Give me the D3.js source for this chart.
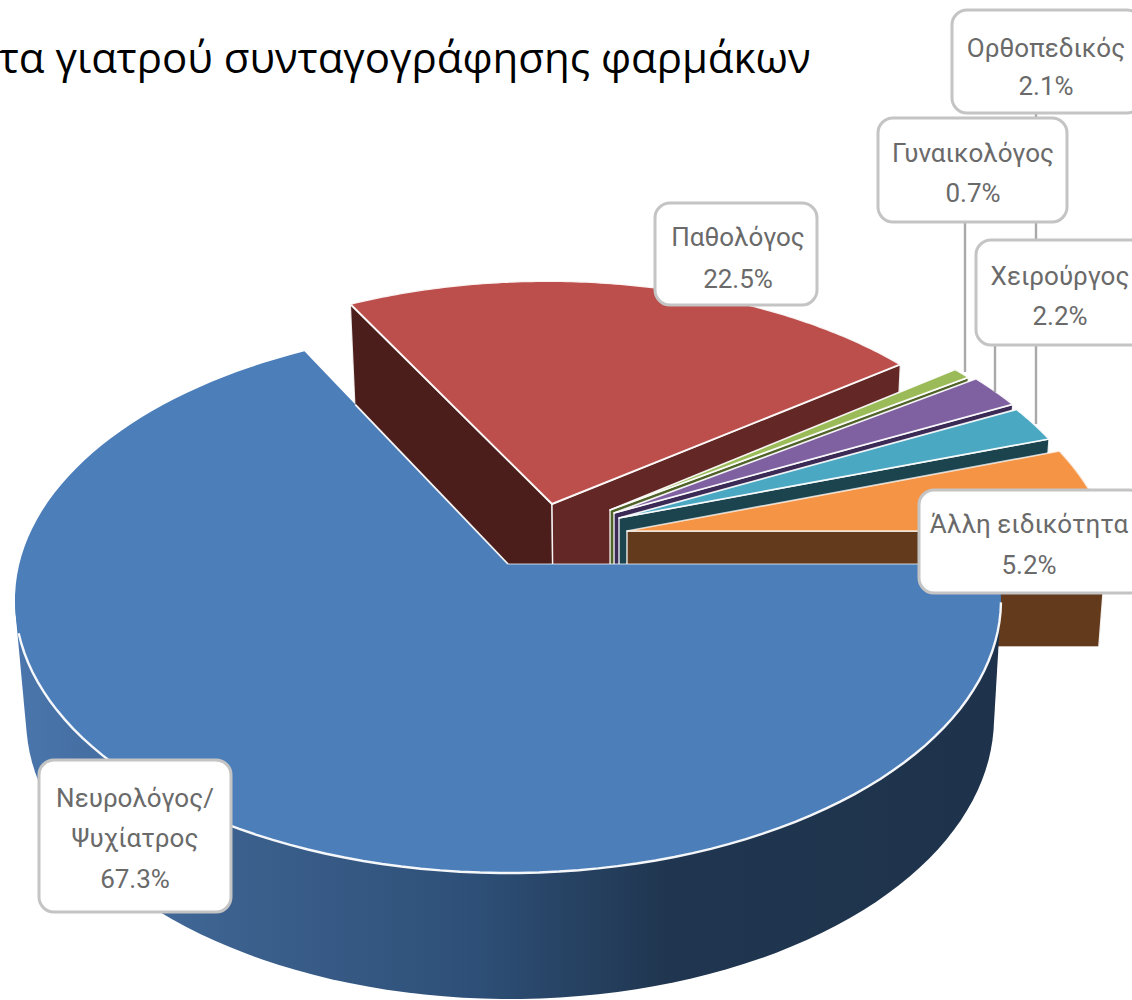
<!DOCTYPE html>
<html lang="el">
<head>
<meta charset="utf-8">
<style>html,body{margin:0;padding:0;background:#fff;overflow:hidden}svg{display:block}</style>
<script src="https://cdn.jsdelivr.net/npm/d3@7/dist/d3.min.js"></script>
</head>
<body>
<script>
// ---- data ----
const categories = ["Νευρολόγος/Ψυχίατρος", "Παθολόγος", "Γυναικολόγος", "Ορθοπεδικός", "Χειρούργος", "Άλλη ειδικότητα"];
const shares = [67.3, 22.5, 0.7, 2.1, 2.2, 5.2];
const labelLines = [["Νευρολόγος/", "Ψυχίατρος"], ["Παθολόγος"], ["Γυναικολόγος"], ["Ορθοπεδικός"], ["Χειρούργος"], ["Άλλη ειδικότητα"]];
const titleText = "τα γιατρού συνταγογράφησης φαρμάκων";

// ---- styles ----
const topColors = ["#4c7eba", "#bc4e4b", "#9bbb59", "#7f60a0", "#4aa8c3", "#f59444"];
const startWallColors = ["#1f344d", "#4b1e1c", "#4f6228", "#3b2a55", "#1b444e", "#633a1b"];
const endWallColors = ["#1f344d", "#632725", "#4f6228", "#3b2a55", "#1b444e", "#633a1b"];
// screen position of each exploded slice's tip, and its radius
const tips = [[508, 564], [552, 504], [610, 510], [614, 513], [619, 518], [627, 531]];
const radii = [1, 0.995, 0.995, 1.005, 1.0, 1.0];
const labelBoxes = [[39, 760, 192, 152], [655, 203, 162, 102], [878, 118, 189, 104], [952, 10, 190, 103], [976, 240, 170, 105], [919, 490, 225, 103]];
const labelCentres = [135, 738, 973, 1046, 1060, 1029];
const labelBaselines = [[807, 847, 888], [246, 288], [162, 202], [57, 95], [285, 325], [533, 574]];
const leaders = [[965, 222, 372], [995, 345, 392], [1036, 113, 424]];

const W = 1132, H = 1000;
const svg = d3.select("body").append("svg").attr("width", W).attr("height", H).attr("viewBox", [0, 0, W, H]);

// Ellipses of the top and bottom rims
const xTop = d3.scaleLinear().domain([-1, 1]).range([15, 1001]);
const yTop = d3.scaleLinear().domain([-1, 1]).range([327, 873]);
const xBot = d3.scaleLinear().domain([-1, 1]).range([26, 994]);
const yBot = d3.scaleLinear().domain([-1, 1]).range([437, 999]);
// perspective: circle centre appears above the ellipse centre
const k = yTop.invert(564);
const q = Math.sqrt(1 - k * k);
const persp = (u, v) => { const d = 1 + k * v; return [u * q / d, (v + k) / d]; };
const unpersp = (X, Y) => { const d = 1 - k * Y; return [X * q / d, (Y - k) / d]; };
const projTop = (p) => { const [X, Y] = persp(p[0], p[1]); return [xTop(X), yTop(Y)]; };
const projBot = (p) => { const [X, Y] = persp(p[0], p[1]); return [xBot(X), yBot(Y)]; };

const pie = d3.pie().sort(null).value(d => d).startAngle(0).endAngle(2 * Math.PI);
const arcs = pie(shares);
const line = d3.line().curve(d3.curveLinear);
const closed = pts => line(pts) + "Z";
const rad = d => d * Math.PI / 180;

const defs = svg.append("defs");
const grad = defs.append("linearGradient").attr("id", "blueWall").attr("gradientUnits", "userSpaceOnUse")
  .attr("x1", 15).attr("x2", 1001).attr("y1", 0).attr("y2", 0);
[[0, "#4a76ad"], [0.22, "#3c618e"], [0.46, "#2e5078"], [0.66, "#203650"], [1, "#1e324b"]]
  .forEach(([o, c]) => grad.append("stop").attr("offset", o).attr("stop-color", c));

const slices = arcs.map((a, i) => {
  const apex = unpersp(xTop.invert(tips[i][0]), yTop.invert(tips[i][1]));
  const pt = t => [apex[0] + radii[i] * Math.cos(t), apex[1] + radii[i] * Math.sin(t)];
  const ts = d3.range(0, 121).map(j => a.startAngle + (a.endAngle - a.startAngle) * j / 120);
  return { i, a, apex, pt, ts };
});

const chart = svg.append("g");
// back to front: red first, then the thin slices, orange, and blue last
[1, 2, 3, 4, 5, 0].forEach(i => {
  const s = slices[i];
  const g = chart.append("g");
  // outer wall
  const wallTs = i === 0 ? s.ts.filter(t => t <= rad(175)) : s.ts;
  const hull = d3.polygonHull(wallTs.flatMap(t => [projTop(s.pt(t)), projBot(s.pt(t))]));
  g.append("path").attr("d", closed(hull))
    .attr("fill", i === 0 ? "url(#blueWall)" : endWallColors[i]);
  // radial walls
  if (i !== 0) {
    const face = (t, fill) => g.append("path")
      .attr("d", closed([projTop(s.apex), projTop(s.pt(t)), projBot(s.pt(t)), projBot(s.apex)]))
      .attr("fill", fill).attr("stroke", "#fff").attr("stroke-opacity", 0.9).attr("stroke-width", 1.4).attr("stroke-linejoin", "round");
    if (i === 1) face(s.a.startAngle, startWallColors[i]);
    face(s.a.endAngle, endWallColors[i]);
  }
  // top face
  const topPts = s.ts.map(t => projTop(s.pt(t)));
  const face = g.append("path")
    .attr("d", closed([projTop(s.apex), ...topPts]))
    .attr("fill", topColors[i]);
  if (i !== 0) {
    face.attr("stroke", "#fff").attr("stroke-opacity", i === 5 ? 0.75 : 0.92)
      .attr("stroke-width", i === 1 ? 2 : 1.7).attr("stroke-linejoin", "round");
  } else {
    // near rim of the big slice, then its two cut edges
    const rimTs = s.ts.filter(t => t >= rad(8) && t <= rad(167));
    g.append("path").attr("d", line(rimTs.map(t => projTop(s.pt(t)))))
      .attr("fill", "none").attr("stroke", "#fff").attr("stroke-opacity", 0.95).attr("stroke-width", 2.4);
    g.append("path").attr("d", line([projTop(s.apex), projTop(s.pt(s.a.startAngle))]))
      .attr("fill", "none").attr("stroke", "#fff").attr("stroke-opacity", 0.5).attr("stroke-width", 1.6);
    // only the part of the far cut edge that lies against the red wall shows white
    const a0 = projTop(s.apex), a1 = projTop(s.pt(s.a.endAngle));
    g.append("path").attr("d", line([a0, [d3.interpolateNumber(a0[0], a1[0])(0.75), d3.interpolateNumber(a0[1], a1[1])(0.75)]]))
      .attr("fill", "none").attr("stroke", "#fff").attr("stroke-opacity", 0.95).attr("stroke-width", 1.8);
  }
});

// leader lines
svg.append("g").selectAll("line").data(leaders).join("line")
  .attr("x1", d => d[0]).attr("x2", d => d[0]).attr("y1", d => d[1]).attr("y2", d => d[2])
  .attr("stroke", "#a9a9a9").attr("stroke-width", 2.4);

// labels
const pct = d3.format(".1f");
const lab = svg.append("g").selectAll("g").data(arcs).join("g");
lab.append("rect")
  .attr("x", (d, i) => labelBoxes[i][0]).attr("y", (d, i) => labelBoxes[i][1])
  .attr("width", (d, i) => labelBoxes[i][2]).attr("height", (d, i) => labelBoxes[i][3])
  .attr("rx", 15).attr("ry", 15)
  .attr("fill", "#fff").attr("stroke", "#c4c4c4").attr("stroke-width", 3);
lab.each(function (d, i) {
  const lines = [...labelLines[i], pct(d.value) + "%"];
  d3.select(this).selectAll("text").data(lines).join("text")
    .attr("x", labelCentres[i]).attr("y", (t, j) => labelBaselines[i][j])
    .attr("text-anchor", "middle")
    .attr("font-family", "Roboto, 'Open Sans', sans-serif")
    .attr("font-size", 26).attr("fill", "#6a6a6a")
    .text(t => t);
});

// title
svg.append("text").attr("x", -1).attr("y", 73)
  .attr("font-family", "'Open Sans', 'Noto Sans', sans-serif")
  .attr("font-size", 42).attr("fill", "#000").text(titleText);
</script>
</body>
</html>
